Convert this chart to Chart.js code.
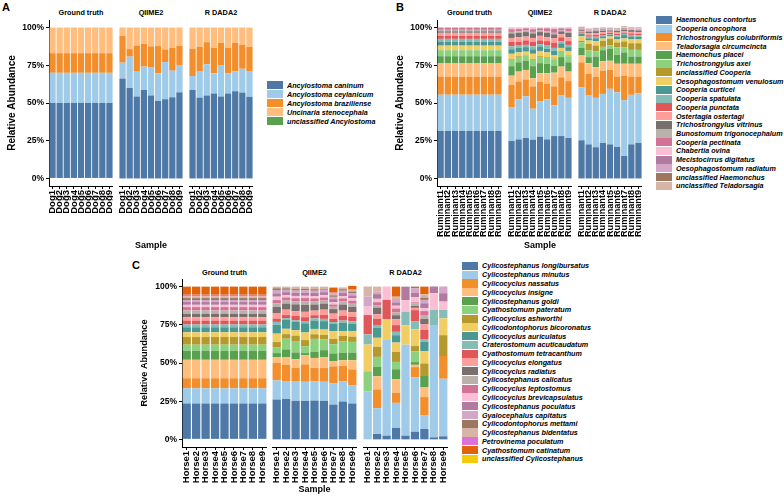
<!DOCTYPE html>
<html>
<head>
<meta charset="utf-8">
<script src="https://cdn.jsdelivr.net/npm/chart.js@4.4.1/dist/chart.umd.min.js"></script>
<style>
  body { margin: 0; width: 784px; height: 496px; background: #fff; position: relative; overflow: hidden;
         font-family: "Liberation Sans", Arial, Helvetica, sans-serif; color: #000; }
  canvas { position: absolute; }
  .strip { position: absolute; font-size: 7.3px; line-height: 8px; font-weight: bold; white-space: nowrap; transform: translateX(-50%); }
  .tag { position: absolute; font-size: 11px; line-height: 11px; font-weight: bold; }
  .legend { position: absolute; font-size: 7.2px; font-style: italic; font-weight: bold; white-space: nowrap; }
  .legend .row { display: flex; align-items: center; }
  .legend .sw { width: 16px; margin-right: 4px; }
</style>
</head>
<body>
<script>
// ---------- panel A : dogs ----------
const dogs = ["Dog1","Dog2","Dog3","Dog4","Dog5","Dog6","Dog7","Dog8","Dog9"];
const speciesA = ["Ancylostoma caninum","Ancylostoma ceylanicum","Ancylostoma braziliense",
                  "Uncinaria stenocephala","unclassified Ancylostoma"];
const coloursA = ["#4E79A7","#A0CBE8","#F28E2B","#FFBE7D","#59A14F"];
const aTruth = [
  [50,50,50,50,50,50,50,50,50],
  [20,20,20,20,20,20,20,20,20],
  [13,13,13,13,13,13,13,13,13],
  [17,17,17,17,17,17,17,17,17],
  [0,0,0,0,0,0,0,0,0]
];
const aQiime = [
  [66.2,60,54.3,58.7,55,51.4,52.5,53.8,57.1],
  [10.5,20.7,16.9,15.4,18.4,18.3,24.6,17.6,18.1],
  [17.8,5,16.9,15.1,14.1,18,8.4,15.2,12.7],
  [5.5,14.3,11.9,10.8,12.5,12.3,14.5,13.4,12.1],
  [0,0,0,0,0,0,0,0,0]
];
const aDada = [
  [58.7,53.6,55,56.3,54.3,56.3,57.8,56.9,54.1],
  [9.2,17.2,20.6,13.4,20.9,13.4,13.2,15.8,16.7],
  [18,16.5,14.7,16.9,14.7,16.9,18.9,15.9,16.5],
  [14.1,12.7,9.7,13.4,10.1,13.4,10.1,11.4,12.7],
  [0,0,0,0,0,0,0,0,0]
];

// ---------- panel B : ruminants ----------
const ruminants = ["Ruminant1","Ruminant2","Ruminant3","Ruminant4","Ruminant5","Ruminant6","Ruminant7","Ruminant8","Ruminant9"];
const speciesB = ["Haemonchus contortus","Cooperia oncophora","Trichostrongylus colubriformis",
  "Teladorsagia circumcincta","Haemonchus placei","Trichostrongylus axei","unclassified Cooperia",
  "Oesophagostomum venulosum","Cooperia curticei","Cooperia spatulata","Cooperia punctata",
  "Ostertagia ostertagi","Trichostrongylus vitrinus","Bunostomum trigonocephalum","Cooperia pectinata",
  "Chabertia ovina","Mecistocirrus digitatus","Oesophagostomum radiatum","unclassified Haemonchus",
  "unclassified Teladorsagia"];
const coloursB = ["#4E79A7","#A0CBE8","#F28E2B","#FFBE7D","#59A14F","#8CD17D","#B6992D","#F1CE63",
  "#499894","#86BCB6","#E15759","#FF9D9A","#79706E","#BAB0AC","#D37295","#FABFD2","#B07AA1",
  "#D4A6C8","#9D7660","#D7B5A6"];
const bTruth = [
  [31.5,31.5,31.5,31.5,31.5,31.5,31.5,31.5,31.5],
  [24,24,24,24,24,24,24,24,24],
  [12,12,12,12,12,12,12,12,12],
  [9,9,9,9,9,9,9,9,9],
  [4.5,4.5,4.5,4.5,4.5,4.5,4.5,4.5,4.5],
  [4,4,4,4,4,4,4,4,4],
  [0,0,0,0,0,0,0,0,0],
  [3,3,3,3,3,3,3,3,3],
  [2.5,2.5,2.5,2.5,2.5,2.5,2.5,2.5,2.5],
  [2,2,2,2,2,2,2,2,2],
  [2,2,2,2,2,2,2,2,2],
  [2,2,2,2,2,2,2,2,2],
  [1,1,1,1,1,1,1,1,1],
  [1,1,1,1,1,1,1,1,1],
  [1.5,1.5,1.5,1.5,1.5,1.5,1.5,1.5,1.5],
  [0,0,0,0,0,0,0,0,0],
  [0,0,0,0,0,0,0,0,0],
  [0,0,0,0,0,0,0,0,0],
  [0,0,0,0,0,0,0,0,0],
  [0,0,0,0,0,0,0,0,0]
];
const bQiime = [
  [24.8,25.9,26.8,25.7,27.7,25.9,28.1,28.1,26.8],
  [22.5,26.6,27.7,20.5,23.5,26.6,20.3,27.1,26.6],
  [14.7,11.8,11.1,14.8,12.8,10.3,12.6,11.8,11.1],
  [6.1,6.5,6.3,5.4,5.7,6.9,9.1,7.1,6.3],
  [6.3,6.2,6.2,8,6.7,6.2,4.7,6.3,6.2],
  [4.2,3.5,3.4,4.2,4.1,4.1,4.2,3.6,4],
  [0.5,0.5,0.5,0.5,0.5,0.5,0.5,0.5,0.5],
  [3.5,2.5,2,3.5,3.5,3,2,2,3],
  [3,3,3,3,3,2.5,3,3,2.5],
  [2,1.5,1.5,2,1.5,2,2,1.5,1.5],
  [3,2.5,3,3,2.5,3,3.5,2.5,2.5],
  [2.5,3,2.5,2.5,3,2.5,3,2,2.5],
  [3,3,3,3,2.5,3,2.5,2,3],
  [1,1,1,1,1,1,1,0.8,1],
  [1.8,1.5,1.5,1.8,1.5,2,2.5,1.2,1.8],
  [0.5,0.5,0.3,0.5,0.3,0.3,0.5,0.3,0.4],
  [0.2,0.2,0.1,0.2,0.1,0.1,0.3,0.1,0.2],
  [0.2,0.2,0.1,0.2,0.1,0.1,0.2,0.1,0.1],
  [0.1,0.1,0,0.1,0,0,0,0,0],
  [0.1,0,0,0.1,0,0,0,0,0]
];
const bDada = [
  [25.3,22.6,20.7,23.5,22.6,20.9,14.9,22.6,23.5],
  [35.1,32.3,32.7,32.5,36.8,36.2,37,32.8,33],
  [16.5,14.3,14.1,15.5,12.6,10.4,16.3,12.1,11],
  [4.6,7.2,6.2,6.2,6,8.5,7.8,8.5,8.5],
  [5,4,7.1,7.3,8,6,7.5,4.8,4.8],
  [3.7,4.4,3.5,2.2,2.2,4.8,3.3,4.4,4.4],
  [1,4.4,3.8,4,4.4,3.3,4,4.4,4.4],
  [3,2.2,2.8,1.5,1.5,2,2,2.5,2.5],
  [1.5,1.5,2,1.5,1,1.8,2.2,2,1.8],
  [0.8,1,1,0.8,0.5,1,0.8,1,1],
  [0.5,1,1.2,0.8,0.8,0.8,0.8,1,1],
  [0.8,1.2,1,1,0.8,1,0.8,1,1],
  [0.8,1.2,1.5,1,0.8,1,1.2,1.2,1.2],
  [0.5,0.6,0.8,0.6,0.5,0.6,0.6,0.6,0.6],
  [0.3,0.3,0.3,0.5,0.3,0.3,0.5,0.3,0.3],
  [0.3,0.3,0.3,0.3,0.3,0.3,0.3,0.3,0.3],
  [0.2,0.2,0.2,0.2,0.2,0.2,0.2,0.2,0.2],
  [0.2,0.2,0.2,0.2,0.2,0.2,0.2,0.2,0.2],
  [0.2,0.2,0.2,0.2,0.2,0.2,0.2,0.2,0.2],
  [0.3,0.3,0.3,0.3,0.3,0.3,0.3,0.3,0.3]
];

// ---------- panel C : horses ----------
const horses = ["Horse1","Horse2","Horse3","Horse4","Horse5","Horse6","Horse7","Horse8","Horse9"];
const speciesC = ["Cylicostephanus longibursatus","Cylicostephanus minutus","Cylicocyclus nassatus",
  "Cylicocyclus insigne","Cylicostephanus goldi","Cyathostomum pateratum","Cylicocyclus ashworthi",
  "Cylicodontophorus bicoronatus","Cylicocyclus auriculatus","Craterostomum acuticaudatum",
  "Cyathostomum tetracanthum","Cylicocyclus elongatus","Cylicocyclus radiatus","Cylicostephanus calicatus",
  "Cylicocyclus leptostomus","Cylicocyclus brevicapsulatus","Cylicostephanus poculatus",
  "Gyalocephalus capitatus","Cylicodontophorus mettami","Cylicostephanus bidentatus",
  "Petrovinema poculatum","Cyathostomum catinatum","unclassified Cylicostephanus"];
const coloursC = ["#4E79A7","#A0CBE8","#F28E2B","#FFBE7D","#59A14F","#8CD17D","#B6992D","#F1CE63",
  "#499894","#86BCB6","#E15759","#FF9D9A","#79706E","#BAB0AC","#D37295","#FABFD2","#B07AA1",
  "#D4A6C8","#9D7660","#D7B5A6","#DC72D6","#E2620A","#F2CC0C"];
const cTruth = [
  [23.5,23.5,23.5,23.5,23.5,23.5,23.5,23.5,23.5],
  [9.9,9.9,9.9,9.9,9.9,9.9,9.9,9.9,9.9],
  [6.6,6.6,6.6,6.6,6.6,6.6,6.6,6.6,6.6],
  [12.1,12.1,12.1,12.1,12.1,12.1,12.1,12.1,12.1],
  [5.9,5.9,5.9,5.9,5.9,5.9,5.9,5.9,5.9],
  [4,4,4,4,4,4,4,4,4],
  [5,5,5,5,5,5,5,5,5],
  [3.1,3.1,3.1,3.1,3.1,3.1,3.1,3.1,3.1],
  [3.3,3.3,3.3,3.3,3.3,3.3,3.3,3.3,3.3],
  [1.8,1.8,1.8,1.8,1.8,1.8,1.8,1.8,1.8],
  [2.6,2.6,2.6,2.6,2.6,2.6,2.6,2.6,2.6],
  [2.2,2.2,2.2,2.2,2.2,2.2,2.2,2.2,2.2],
  [2.2,2.2,2.2,2.2,2.2,2.2,2.2,2.2,2.2],
  [2.2,2.2,2.2,2.2,2.2,2.2,2.2,2.2,2.2],
  [2.2,2.2,2.2,2.2,2.2,2.2,2.2,2.2,2.2],
  [1.5,1.5,1.5,1.5,1.5,1.5,1.5,1.5,1.5],
  [1.8,1.8,1.8,1.8,1.8,1.8,1.8,1.8,1.8],
  [1.3,1.3,1.3,1.3,1.3,1.3,1.3,1.3,1.3],
  [1.3,1.3,1.3,1.3,1.3,1.3,1.3,1.3,1.3],
  [1.3,1.3,1.3,1.3,1.3,1.3,1.3,1.3,1.3],
  [0.9,0.9,0.9,0.9,0.9,0.9,0.9,0.9,0.9],
  [5.3,5.3,5.3,5.3,5.3,5.3,5.3,5.3,5.3],
  [0,0,0,0,0,0,0,0,0]
];
const cQiime = [
  [26.1,26.5,25.2,25.2,25.4,25.2,22.8,24.8,23.5],
  [12.5,11.7,13,12.5,12.5,12.5,13.8,13.1,12],
  [11.4,10.7,8.5,11.4,8.8,9,11.2,10.1,10.3],
  [3.9,5,5.7,5.9,6.6,7.2,3.5,3.8,6],
  [2.6,5,4.5,1.5,4,4.5,5,5,5],
  [3.9,7,7.5,4.5,8.5,7,6,7.5,7],
  [3.3,3,3.5,4,3,3,3.5,3.5,3.5],
  [5.5,3.5,3.5,5,3.5,3.5,5,3,3.5],
  [5.9,6,5.5,6,5.5,5.5,5,5.5,5],
  [1.8,1,1,1.5,1.5,1.5,1,1.5,1.5],
  [2.2,2,3,2.5,2,2.5,2,3,3],
  [3.3,3.5,3,3.5,3,3.5,3.5,3.5,3],
  [4.4,4,4.5,4.5,4,4,3,4,3.5],
  [2.2,2,2,2.5,2,2,1.5,2,2],
  [2.2,2,2,2,2,2,1.5,2,2],
  [2.2,1.5,1.5,1.5,1.5,1.5,1.5,1.5,1.5],
  [2.2,2,2,2,2,2,2,2,2],
  [2.2,1.5,1.5,1.5,1.5,1.5,1.5,1.5,1.5],
  [1.1,1,1,1,1,0.5,1,1,1],
  [1.1,1.1,1.6,1.5,1.7,1.6,1.5,1.2,1.2],
  [0,0,0,0,0,0,0.3,0,0],
  [0,0,0,0,0,0,3.3,0,2.5],
  [0,0,0,0,0,0,0,0,0]
];
const cDada = [
  [0,3.5,2.4,7.5,2.4,5,6.8,1.3,2],
  [31.4,16.9,63.2,16.4,59.6,35.7,8.8,73.5,37.7],
  [0,12.3,0,6.6,0,6.6,12.1,0,14.9],
  [0,8.6,0,8.8,0,1.5,6.6,0,0],
  [0,6.1,0,6.6,0,1.8,7.7,0,0],
  [13.2,6.6,0,4.8,0,7,0,0,0],
  [0,6.6,0,6.6,0,3.5,7.7,0,13.6],
  [17.5,5.9,13.2,6.1,12.7,11,8.1,0,11],
  [0,6.6,0,4.8,0,0,6.1,0,0],
  [6.6,1.8,0,2.2,8.8,5.3,1.8,9.9,5.5],
  [12.7,3.9,12.5,4.4,0,7.2,5.9,0,0],
  [0,3.1,0,3.9,0,1.5,3.7,0,0],
  [0,4.4,0,2.6,0,1.3,3.5,0,0],
  [0,1.3,0,1.8,0,1.5,2.6,0,0],
  [0,2.2,0,2.6,0,0.8,2.6,0,0],
  [5.5,2.2,8.8,1.8,7.7,3.3,1.8,11,5.5],
  [0,3.1,0,2.2,8.8,3,3.3,4.4,5.5],
  [6.6,1.8,0,2.2,0,3,2.2,0,4.4],
  [0,0,0,0,0,1,1.5,0,0],
  [6.6,3.1,0,1.5,0,0,2.2,0,0],
  [0,0,0,0,0,0,0,0,0],
  [0,0,0,6.6,0,0,5,0,0],
  [0,0,0,0,0,0,0,0,0]
];

const pctTicks = [0, 25, 50, 75, 100];
const FONT = '"Liberation Sans", Arial, Helvetica, sans-serif';
const Y_W = 49;   // width kept for the y axis of the first facet

// one facet = one chart; left/right/top/plotH are the plot area in page pixels
function facet(f) {
  const cv = document.createElement('canvas');
  const x0 = f.left - (f.yAxis ? Y_W : 0);
  cv.width = f.right - x0;
  cv.height = f.plotH + f.axisH;
  cv.style.left = x0 + 'px';
  cv.style.top = f.top + 'px';
  document.body.appendChild(cv);

  const datasets = f.rows.map((r, i) => ({
    label: f.species[i],
    data: r,
    backgroundColor: f.colours[i],
    borderWidth: 0,
    barPercentage: 0.88,
    categoryPercentage: 1
  }));

  new Chart(cv, {
    type: 'bar',
    data: { labels: f.labels, datasets },
    options: {
      responsive: false,
      animation: false,
      devicePixelRatio: 1,
      layout: { padding: 0 },
      plugins: { legend: { display: false }, tooltip: { enabled: false } },
      scales: {
        x: {
          stacked: true,
          grid: { display: true, drawOnChartArea: false, drawTicks: true, tickLength: 3, offset: false, color: '#000' },
          border: { display: true, color: '#000', width: 1 },
          ticks: { autoSkip: false, minRotation: 90, maxRotation: 90, padding: 1, color: '#000',
                   font: { family: FONT, size: f.xTickSize || 9.5, weight: 'bold' } },
          title: { display: !!f.xTitle, text: 'Sample', color: '#000',
                   font: { family: FONT, size: 9, weight: 'bold' }, padding: { top: 0, bottom: 1 } },
          afterFit(s) { s.height = f.axisH; s.paddingLeft = 0; s.paddingRight = 0; }
        },
        y: {
          stacked: true,
          display: !!f.yAxis,
          min: -5, max: 105,
          afterBuildTicks(s) { s.ticks = pctTicks.map(v => ({ value: v })); },
          grid: { display: true, drawOnChartArea: false, drawTicks: true, tickLength: 3, color: '#000' },
          border: { display: true, color: '#000', width: 1 },
          ticks: { padding: 2, color: '#000', font: { family: FONT, size: 8.5, weight: 'bold' }, callback: v => v + '%' },
          title: { display: true, text: 'Relative Abundance', color: '#000',
                   font: { family: FONT, size: f.yTitleSize || 10, weight: 'bold' }, padding: { top: 6.5, bottom: 0 } },
          afterFit(s) { s.width = f.yAxis ? Y_W : 0; s.paddingTop = 0; s.paddingBottom = 0; }
        }
      }
    }
  });
}

function strip(text, cx, cy) {
  const d = document.createElement('div');
  d.className = 'strip';
  d.textContent = text;
  d.style.left = cx + 'px';
  d.style.top = (cy - 4) + 'px';
  document.body.appendChild(d);
}

function tag(text, x, y) {
  const d = document.createElement('div');
  d.className = 'tag';
  d.textContent = text;
  d.style.left = x + 'px';
  d.style.top = y + 'px';
  document.body.appendChild(d);
}

function legend(names, colours, x, y, step) {
  const box = document.createElement('div');
  box.className = 'legend';
  box.style.left = x + 'px';
  box.style.top = y + 'px';
  names.forEach((n, i) => {
    const row = document.createElement('div');
    row.className = 'row';
    row.style.height = step + 'px';
    const sw = document.createElement('span');
    sw.className = 'sw';
    sw.style.height = (step - 0.7) + 'px';
    sw.style.background = colours[i];
    const t = document.createElement('span');
    t.textContent = n;
    row.appendChild(sw);
    row.appendChild(t);
    box.appendChild(row);
  });
  document.body.appendChild(box);
}

// panel A
const topAB = 20, hAB = 166, axAB = 66;
facet({ left: 49, right: 113, top: topAB, plotH: hAB, axisH: axAB, yAxis: true, labels: dogs, species: speciesA, colours: coloursA, rows: aTruth });
facet({ left: 119, right: 183, top: topAB, plotH: hAB, axisH: axAB, xTitle: true, labels: dogs, species: speciesA, colours: coloursA, rows: aQiime });
facet({ left: 189, right: 253, top: topAB, plotH: hAB, axisH: axAB, labels: dogs, species: speciesA, colours: coloursA, rows: aDada });
strip('Ground truth', 81, 13); strip('QIIME2', 151, 13); strip('R DADA2', 221, 13);
legend(speciesA, coloursA, 267, 80.5, 9);
tag('A', 2, 2);

// panel B
facet({ left: 437, right: 502, top: topAB, plotH: hAB, axisH: axAB, yAxis: true, xTickSize: 9.1, labels: ruminants, species: speciesB, colours: coloursB, rows: bTruth });
facet({ left: 508, right: 572, top: topAB, plotH: hAB, axisH: axAB, xTitle: true, xTickSize: 9.1, labels: ruminants, species: speciesB, colours: coloursB, rows: bQiime });
facet({ left: 578, right: 642, top: topAB, plotH: hAB, axisH: axAB, xTickSize: 9.1, labels: ruminants, species: speciesB, colours: coloursB, rows: bDada });
strip('Ground truth', 469.5, 13); strip('QIIME2', 540, 13); strip('R DADA2', 610, 13);
legend(speciesB, coloursB, 656, 15.6, 8.74);
tag('B', 396, 2);

// panel C
const topC = 279, hC = 168, axC = 49;
facet({ left: 182, right: 267, top: topC, plotH: hC, axisH: axC, yAxis: true, yTitleSize: 9.1, labels: horses, species: speciesC, colours: coloursC, rows: cTruth });
facet({ left: 272, right: 357, top: topC, plotH: hC, axisH: axC, xTitle: true, labels: horses, species: speciesC, colours: coloursC, rows: cQiime });
facet({ left: 363, right: 448, top: topC, plotH: hC, axisH: axC, labels: horses, species: speciesC, colours: coloursC, rows: cDada });
strip('Ground truth', 224.5, 273); strip('QIIME2', 314.5, 273); strip('R DADA2', 405.5, 273);
legend(speciesC, coloursC, 462, 261.6, 8.77);
tag('C', 132, 260);
</script>
</body>
</html>
